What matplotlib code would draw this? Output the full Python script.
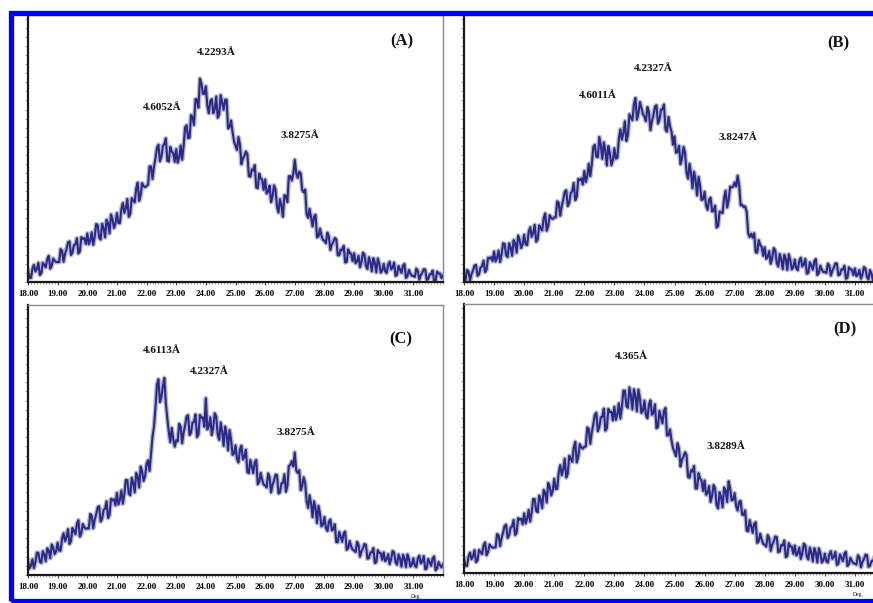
import numpy as np
import matplotlib
matplotlib.use("Agg")
import matplotlib.pyplot as plt
import matplotlib.transforms as mtransforms
from matplotlib.patches import Rectangle
from matplotlib.ticker import MultipleLocator, FixedLocator

# intensities (percent of panel height), 0.05 deg step from 18 to 32
counts_a = [4.2, 1.7, 1.5, 5.0, 6.4, 3.9, 4.9, 7.2, 2.6, 3.3, 7.2, 6.4, 5.5, 8.7, 9.8, 5.0, 6.1, 8.8, 7.9, 7.5,
            7.5, 7.4, 12.3, 11.7, 7.6, 10.5, 12.4, 14.8, 15.2, 10.1, 11.0, 13.8, 14.1, 16.4, 10.7, 11.5, 16.8, 16.1, 16.4, 14.2,
            18.2, 14.1, 15.5, 18.6, 13.9, 16.9, 21.7, 21.4, 16.7, 15.9, 21.8, 20.1, 16.7, 23.3, 22.1, 18.2, 25.3, 23.6, 20.2, 21.8,
            25.8, 22.1, 22.0, 27.3, 29.6, 25.9, 27.6, 31.1, 24.4, 25.5, 31.4, 30.6, 29.8, 35.0, 37.2, 30.4, 32.6, 37.0, 35.9, 35.5,
            36.0, 36.4, 43.3, 43.3, 38.6, 43.1, 46.3, 50.2, 51.4, 45.2, 46.9, 51.0, 51.7, 53.8, 45.4, 45.1, 50.6, 48.8, 48.3, 45.0,
            49.8, 44.7, 46.6, 51.1, 45.8, 50.8, 57.9, 58.7, 53.9, 54.0, 62.5, 61.7, 58.8, 68.5, 68.4, 65.3, 76.2, 74.4, 70.5, 70.4,
            73.3, 66.0, 63.2, 67.8, 68.5, 63.2, 64.8, 69.5, 61.5, 62.7, 70.0, 67.3, 64.5, 68.3, 68.3, 57.5, 58.0, 60.5, 56.2, 52.7,
            51.0, 49.4, 54.3, 51.5, 44.1, 46.3, 47.3, 48.9, 47.9, 39.7, 39.4, 42.2, 41.7, 43.8, 35.4, 35.1, 40.6, 38.8, 38.3, 34.5,
            38.4, 33.1, 33.8, 36.1, 29.9, 32.2, 36.2, 34.6, 28.2, 26.0, 31.0, 28.6, 24.4, 32.5, 32.2, 29.9, 39.6, 39.7, 38.0, 40.7,
            45.8, 40.6, 39.0, 41.3, 40.6, 34.4, 33.6, 34.6, 25.4, 24.0, 27.4, 24.1, 20.8, 24.5, 25.2, 16.7, 17.1, 20.0, 17.4, 15.7,
            15.5, 14.5, 18.5, 17.0, 12.0, 14.0, 15.0, 16.5, 16.0, 10.0, 10.0, 12.2, 11.9, 13.6, 7.3, 7.5, 12.2, 10.9, 10.6, 7.8,
            10.8, 7.0, 7.7, 9.8, 5.5, 7.5, 11.0, 10.3, 6.0, 4.9, 9.3, 7.4, 4.0, 8.9, 7.3, 3.6, 8.8, 6.9, 3.5, 4.3,
            6.8, 3.9, 3.4, 6.5, 7.6, 4.7, 5.4, 7.3, 2.3, 2.6, 6.0, 4.7, 3.4, 6.1, 6.8, 1.5, 2.2, 4.5, 3.2, 2.3,
            2.3, 1.9, 5.0, 4.2, 0.9, 2.5, 3.5, 4.8, 4.7, 0.8, 1.1, 2.9, 2.9, 4.3, 0.3, 0.4, 3.9, 3.2, 3.2, 1.4,
            2.5]

counts_b = [0.8, 0.7, 4.5, 4.0, 0.6, 2.9, 4.3, 6.2, 6.4, 2.3, 2.9, 5.4, 5.9, 8.0, 3.7, 4.6, 9.1, 8.8, 9.3, 7.8,
            11.4, 7.7, 9.0, 11.8, 7.5, 10.3, 14.5, 14.3, 10.0, 9.3, 14.5, 12.9, 9.8, 15.7, 14.6, 11.0, 17.4, 15.8, 12.7, 14.1,
            17.7, 14.1, 13.8, 18.6, 20.5, 16.9, 18.4, 21.4, 15.1, 15.9, 21.2, 20.3, 19.3, 23.9, 25.7, 19.2, 21.0, 25.0, 24.0, 23.6,
            24.2, 24.2, 30.2, 29.6, 24.8, 28.4, 30.8, 33.8, 34.4, 28.4, 29.6, 33.3, 34.0, 37.1, 30.6, 31.9, 38.6, 38.1, 38.8, 36.5,
            41.6, 37.4, 39.7, 44.3, 39.6, 44.1, 50.6, 51.4, 47.0, 46.7, 54.3, 51.2, 46.1, 52.3, 49.3, 43.6, 50.9, 48.3, 43.7, 45.5,
            50.1, 46.2, 46.5, 53.6, 57.2, 53.3, 55.7, 60.2, 52.8, 55.0, 62.8, 61.7, 60.6, 66.5, 68.9, 60.8, 63.2, 67.4, 65.3, 62.9,
            61.9, 60.2, 65.5, 63.6, 56.8, 60.3, 62.4, 65.7, 66.2, 59.3, 60.7, 64.5, 64.7, 66.5, 57.1, 56.3, 61.8, 58.4, 56.4, 51.4,
            54.6, 48.4, 48.7, 51.0, 44.1, 46.3, 50.6, 48.4, 41.0, 38.7, 44.3, 40.7, 35.1, 41.3, 38.3, 32.4, 39.4, 36.1, 30.7, 31.0,
            33.8, 28.6, 27.0, 30.8, 31.6, 26.4, 26.6, 28.6, 20.4, 21.0, 26.4, 26.1, 25.8, 31.5, 34.2, 27.9, 30.6, 35.7, 35.4, 35.7,
            37.3, 35.8, 39.8, 36.2, 28.7, 28.9, 28.1, 28.3, 26.3, 18.2, 16.8, 18.1, 16.6, 18.3, 11.1, 11.0, 15.7, 13.9, 13.1, 9.8,
            13.0, 8.7, 9.4, 11.6, 6.8, 9.0, 12.7, 11.9, 7.1, 5.8, 10.5, 8.4, 4.8, 10.2, 8.6, 4.5, 10.4, 8.3, 4.7, 5.6,
            8.4, 5.1, 4.4, 8.0, 9.1, 5.8, 6.6, 8.7, 3.1, 3.4, 7.4, 6.1, 4.6, 7.8, 8.6, 2.6, 3.4, 6.1, 4.6, 3.7,
            3.8, 3.4, 6.9, 6.1, 2.4, 4.3, 5.4, 7.0, 6.9, 2.5, 2.8, 4.7, 4.6, 6.1, 1.2, 1.6, 5.5, 4.7, 4.6, 2.6,
            5.1, 2.2, 2.8, 4.5, 1.2, 2.8, 5.6, 5.1, 1.8, 1.0, 4.5, 3.1, 0.5, 4.4, 3.3, 0.5, 4.6, 3.2, 0.7, 1.4,
            2.5]

counts_c = [5.3, 2.4, 3.5, 5.8, 2.5, 4.8, 8.3, 8.2, 4.9, 4.5, 8.8, 7.6, 5.1, 9.9, 9.0, 6.2, 11.3, 10.1, 7.7, 8.9,
            12.0, 9.0, 9.0, 13.5, 15.5, 12.5, 14.0, 17.0, 11.5, 12.5, 17.4, 16.3, 15.1, 19.0, 20.3, 14.2, 15.5, 18.9, 17.7, 17.1,
            17.3, 17.2, 22.6, 21.9, 17.3, 20.4, 22.5, 25.1, 25.5, 19.8, 20.8, 24.1, 24.6, 27.3, 21.1, 22.2, 28.2, 27.6, 28.1, 25.8,
            30.4, 26.1, 27.8, 31.3, 26.4, 29.9, 35.2, 35.1, 30.2, 29.5, 36.0, 34.2, 30.6, 37.8, 36.6, 32.4, 40.2, 38.4, 34.8, 36.6,
            41.1, 42.5, 38.5, 44.8, 51.2, 55.0, 62.0, 70.5, 72.5, 64.0, 66.0, 70.0, 73.0, 63.5, 58.0, 53.0, 49.2, 54.5, 50.3, 47.5,
            49.9, 49.5, 56.0, 54.9, 48.8, 52.8, 55.4, 58.7, 59.2, 51.8, 52.7, 56.5, 56.7, 59.5, 51.1, 52.1, 59.3, 58.2, 58.4, 54.9,
            65.5, 53.9, 55.1, 58.4, 51.8, 54.8, 59.9, 58.7, 51.9, 50.0, 56.5, 53.2, 47.8, 55.0, 52.4, 46.1, 53.7, 50.2, 44.5, 44.9,
            48.0, 42.9, 41.7, 46.5, 47.9, 42.8, 43.7, 46.4, 38.1, 37.7, 42.6, 40.2, 37.7, 41.8, 42.6, 33.6, 34.4, 37.8, 35.3, 33.5,
            33.2, 32.4, 37.6, 36.2, 30.6, 33.4, 35.0, 37.2, 37.0, 30.2, 30.6, 33.9, 34.1, 37.3, 30.8, 32.9, 40.4, 40.7, 42.2, 40.2,
            45.4, 38.6, 37.8, 38.8, 31.4, 32.9, 36.2, 34.1, 27.2, 24.8, 29.5, 26.4, 21.4, 27.3, 24.7, 19.2, 25.6, 22.7, 18.0, 18.7,
            21.5, 17.4, 16.3, 19.7, 20.6, 16.5, 16.9, 18.8, 12.2, 12.1, 16.0, 14.2, 12.3, 15.5, 16.1, 9.3, 9.9, 12.6, 10.7, 9.4,
            9.1, 8.5, 12.3, 11.2, 6.8, 8.8, 9.9, 11.5, 11.2, 6.0, 6.2, 8.4, 8.3, 10.0, 4.4, 4.8, 9.2, 8.2, 8.1, 5.6,
            8.4, 5.1, 5.8, 7.7, 4.0, 5.9, 8.9, 8.4, 4.7, 3.8, 7.6, 6.0, 3.1, 7.5, 6.2, 2.9, 7.6, 6.0, 3.1, 3.9,
            6.2, 3.4, 2.9, 6.1, 7.2, 4.3, 5.0, 7.0, 2.1, 2.4, 5.9, 4.7, 3.4, 6.2, 6.9, 1.7, 2.4, 4.8, 3.6, 2.8,
            4.0]

counts_d = [5.2, 2.7, 2.6, 6.1, 7.6, 5.1, 6.2, 8.5, 4.0, 4.7, 8.6, 7.8, 7.0, 10.2, 11.4, 6.6, 7.8, 10.6, 9.8, 9.4,
            9.5, 9.5, 14.5, 14.0, 10.0, 13.0, 15.0, 17.5, 18.0, 13.0, 14.0, 16.9, 17.3, 19.7, 14.1, 15.0, 20.4, 19.8, 20.2, 18.1,
            22.2, 18.4, 20.1, 23.5, 19.1, 22.4, 27.5, 27.5, 23.1, 22.6, 28.8, 27.3, 24.1, 30.9, 29.9, 26.2, 33.5, 32.0, 28.8, 30.6,
            35.0, 31.2, 31.3, 37.4, 40.1, 36.3, 38.5, 42.5, 35.5, 36.9, 43.6, 42.5, 41.3, 46.7, 48.8, 41.1, 43.2, 47.9, 46.7, 46.2,
            46.9, 47.0, 54.1, 53.5, 48.0, 52.3, 55.2, 58.8, 59.6, 52.7, 54.2, 57.9, 58.1, 61.1, 52.9, 53.8, 61.0, 59.8, 60.0, 56.7,
            61.8, 56.9, 58.9, 63.1, 57.4, 61.6, 67.8, 67.8, 62.1, 61.4, 69.0, 66.0, 60.8, 68.3, 65.9, 60.1, 68.2, 64.9, 59.5, 60.4,
            64.1, 58.7, 57.5, 62.6, 64.2, 58.8, 59.7, 62.7, 53.8, 54.3, 60.3, 58.0, 55.6, 60.3, 61.4, 51.1, 51.2, 53.4, 49.3, 46.4,
            45.0, 43.4, 48.3, 46.3, 39.6, 42.1, 43.3, 44.9, 43.9, 35.7, 35.4, 38.2, 37.7, 39.8, 31.4, 31.4, 37.1, 35.1, 34.3, 30.5,
            34.4, 29.1, 29.8, 32.3, 26.4, 28.7, 32.7, 31.4, 25.2, 24.0, 30.0, 28.1, 24.4, 31.8, 30.7, 26.4, 34.1, 31.5, 27.0, 27.2,
            29.7, 24.8, 23.2, 26.5, 26.8, 21.7, 21.6, 23.3, 15.7, 15.5, 19.7, 17.4, 14.9, 18.3, 18.9, 11.2, 11.8, 14.6, 12.4, 10.8,
            10.5, 9.8, 14.1, 12.9, 8.2, 10.5, 11.8, 13.6, 13.4, 7.7, 8.0, 10.4, 10.2, 12.1, 5.9, 6.3, 11.1, 9.9, 9.8, 7.1,
            10.2, 6.5, 7.3, 9.5, 5.2, 7.3, 10.9, 10.3, 6.0, 5.0, 9.5, 7.6, 4.3, 9.2, 7.6, 3.9, 9.2, 7.3, 3.9, 4.7,
            7.2, 4.4, 3.9, 7.0, 8.1, 5.3, 6.0, 7.9, 3.0, 3.4, 6.9, 5.7, 4.4, 7.2, 7.9, 2.6, 3.3, 5.7, 4.4, 3.6,
            3.5, 3.1, 6.6, 5.8, 2.1, 4.1, 5.2, 6.8, 6.7, 2.3, 2.6, 4.5, 4.4, 6.0, 1.2, 1.6, 5.6, 4.8, 4.8, 2.8,
            4.0]

# d-spacing labels: (text, 2theta, height)
peaks_a = [("4.6052Å", 22.53, 65.2), ("4.2293Å", 24.35, 86.1), ("3.8275Å", 27.16, 55.0)]
peaks_b = [("4.6011Å", 22.45, 70.0), ("4.2327Å", 24.28, 80.1), ("3.8247Å", 27.10, 54.3)]
peaks_c = [("4.6113Å", 22.53, 83.3), ("4.2327Å", 24.11, 75.2), ("3.8275Å", 27.05, 52.9)]
peaks_d = [("4.365Å", 23.58, 80.3), ("3.8289Å", 26.71, 47.2)]

panel_tags = ["(A)", "(B)", "(C)", "(D)"]
xtick_vals = list(range(18, 32))
xtick_labels = ["%.2f" % v for v in xtick_vals]

two_theta = np.linspace(18.0, 32.0, len(counts_a))

W, H = 873, 603
fig = plt.figure(figsize=(W / 100, H / 100), dpi=100)
fig.patch.set_facecolor("white")

# axes boxes in pixels: left, top, right, bottom
boxes = [(28, 15, 443, 282), (464, 15, 885, 282),
         (28, 305, 443, 575), (464, 304, 885, 573)]
series = [counts_a, counts_b, counts_c, counts_d]
peaks = [peaks_a, peaks_b, peaks_c, peaks_d]
tag_pos = [(30.6, 90.0), (30.45, 89.5), (30.57, 87.4), (30.67, 90.7)]

serif = "Liberation Serif"

for i, (l, t, r, b) in enumerate(boxes):
    ax = fig.add_axes([l / W, 1 - b / H, (r - l) / W, (b - t) / H])
    ax.plot(two_theta, series[i], color="#9a9cbc", lw=3.4, alpha=0.7)
    ax.plot(two_theta, series[i], color="#2a2a88", lw=1.5)
    ax.set_xlim(18, 32)
    ax.set_ylim(0, 100)

    ax.xaxis.set_major_locator(FixedLocator(xtick_vals))
    ax.set_xticklabels(xtick_labels, family=serif, fontweight="bold", fontsize=6.5)
    ax.xaxis.set_minor_locator(MultipleLocator(0.1))
    ax.yaxis.set_major_locator(MultipleLocator(3.4))
    ax.set_yticklabels([])
    ax.tick_params(axis="x", which="major", length=2.5, width=0.8, pad=3, color="#444444")
    ax.tick_params(axis="x", which="minor", length=1.5, width=0.5, color="#777777")
    ax.tick_params(axis="y", which="major", length=2, width=0.5, color="#777777")

    for side in ("left", "bottom"):
        ax.spines[side].set_linewidth(1.6)
        ax.spines[side].set_color("#1a1a1a")
    for side in ("top", "right"):
        ax.spines[side].set_linewidth(1.0)
        ax.spines[side].set_color("#8a8a8a")

    for txt, px, py in peaks[i]:
        ax.text(px, py, txt, ha="center", va="center", family=serif,
                fontweight="bold", fontsize=8, color="#111111")
    ax.text(tag_pos[i][0], tag_pos[i][1], panel_tags[i], ha="center", va="center",
            family=serif, fontweight="bold", fontsize=12, color="#111111")

    if i >= 2:
        trans = mtransforms.blended_transform_factory(ax.transData, ax.transAxes)
        ax.text(31.1, -0.08, "Deg.", transform=trans, ha="center",
                va="center", fontsize=4, family=serif, clip_on=False)

# blue frame around the figure
fig.add_artist(Rectangle((10.5 / W, 1 - 600.5 / H), (900 - 10.5) / W, (600.5 - 12.5) / H,
                         transform=fig.transFigure, fill=False, ec="#0000ff",
                         lw=3.8, zorder=10))

fig.savefig("out.png", dpi=100)
